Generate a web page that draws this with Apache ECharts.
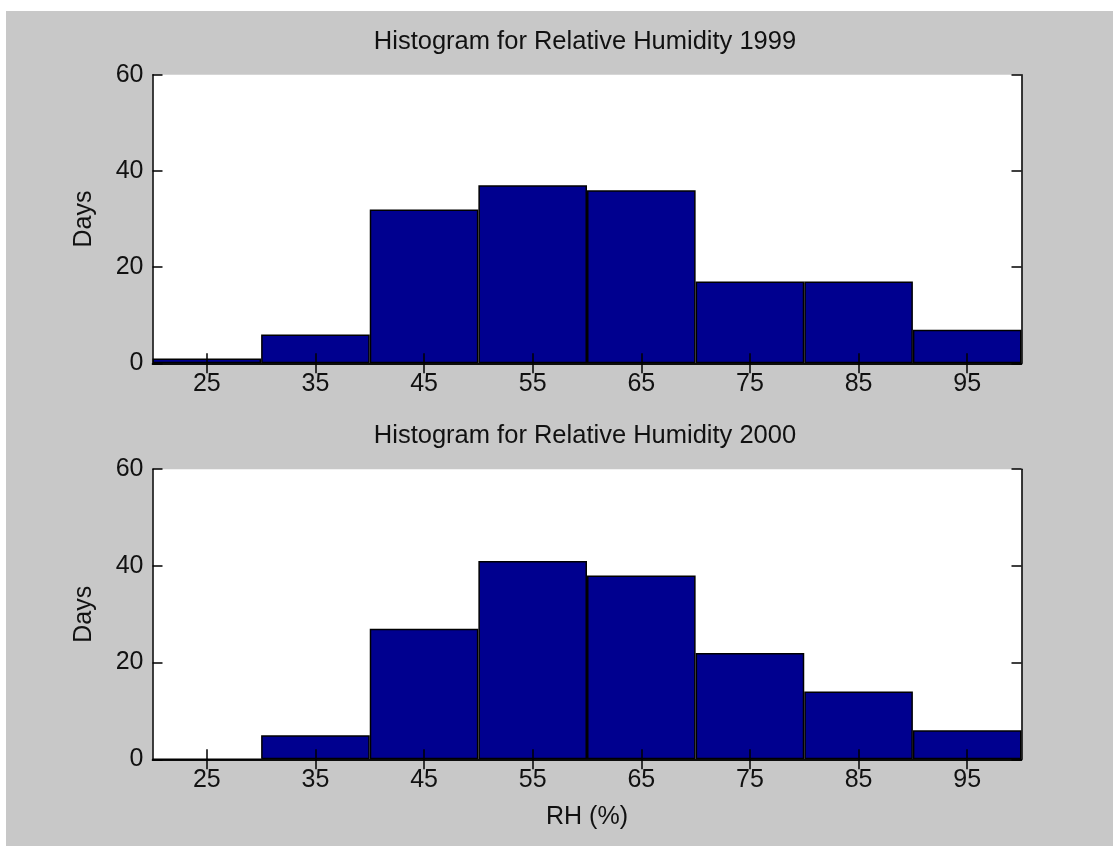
<!DOCTYPE html>
<html>
<head>
<meta charset="utf-8">
<script src="https://cdn.jsdelivr.net/npm/echarts@6/dist/echarts.min.js"></script>
<style>
  html, body { margin: 0; padding: 0; background: #ffffff; }
  #bg { position: absolute; left: 6px; top: 11px; width: 1107px; height: 835px; background: #c8c8c8; }
  #chart { position: absolute; left: 0; top: 0; width: 1113px; height: 846px; }
</style>
</head>
<body>
<div id="bg"></div>
<div id="chart"></div>
<script>
// ---- data ----
const categories = ['25', '35', '45', '55', '65', '75', '85', '95'];
const days1999 = [1, 6, 32, 37, 36, 17, 17, 7];
const days2000 = [0, 5, 27, 41, 38, 22, 14, 6];
const yTicks = [0, 20, 40, 60];
const titles = ['Histogram for Relative Humidity 1999', 'Histogram for Relative Humidity 2000'];
const xName = 'RH (%)';
const yName = 'Days';

const FONT = 'Liberation Sans, Arial, sans-serif';
const FS = 25;
const TXT = '#111111';
const LINE = { color: '#000000', width: 1.5 };

const chart = echarts.init(document.getElementById('chart'));

const grids = [
  { left: 152.5, right: 91.5, top: 74.7, height: 288.6 },
  { left: 152.5, right: 91.5, top: 469.2, height: 290.1 }
];

function xAxes(gi, withName) {
  return [
    {
      type: 'category', gridIndex: gi, data: categories, position: 'bottom',
      boundaryGap: true, z: 5,
      axisLine: { show: true, lineStyle: LINE },
      axisTick: { show: true, inside: true, length: 10, alignWithLabel: true, lineStyle: LINE },
      axisLabel: { show: true, interval: 0, margin: 8, color: TXT, fontSize: FS, fontFamily: FONT },
      splitLine: { show: false },
      name: withName ? xName : '', nameLocation: 'middle', nameGap: 45,
      nameTextStyle: { color: TXT, fontSize: FS, fontFamily: FONT }
    },
    {
      type: 'category', gridIndex: gi, data: categories, position: 'top',
      boundaryGap: true, z: 5,
      axisLine: { show: true, lineStyle: LINE },
      axisTick: { show: true, inside: true, length: 10, alignWithLabel: true, lineStyle: LINE },
      axisLabel: { show: false },
      splitLine: { show: false }
    }
  ];
}

function yAxes(gi) {
  return [
    {
      type: 'value', gridIndex: gi, position: 'left', min: 0, max: 60, interval: 20, z: 5,
      axisLine: { show: true, lineStyle: LINE },
      axisTick: { show: true, inside: true, length: 10, lineStyle: LINE },
      axisLabel: { show: true, margin: 9, color: TXT, fontSize: FS, fontFamily: FONT,
        formatter: v => (yTicks.indexOf(v) >= 0 ? String(v) : '') },
      splitLine: { show: false },
      name: yName, nameLocation: 'middle', nameGap: 56, nameRotate: 90,
      nameTextStyle: { color: TXT, fontSize: FS, fontFamily: FONT }
    },
    {
      type: 'value', gridIndex: gi, position: 'right', min: 0, max: 60, interval: 20, z: 5,
      axisLine: { show: true, lineStyle: LINE },
      axisTick: { show: true, inside: true, length: 10, lineStyle: LINE },
      axisLabel: { show: false },
      splitLine: { show: false }
    }
  ];
}

const barStyle = { color: '#00008f', borderColor: '#000000', borderWidth: 1.5 };

chart.setOption({
  animation: false,
  backgroundColor: 'transparent',
  title: [
    { text: titles[0], left: 585, top: 29, textAlign: 'center', padding: 0,
      textStyle: { color: TXT, fontSize: 25.5, fontWeight: 'normal', fontFamily: FONT } },
    { text: titles[1], left: 585, top: 423, textAlign: 'center', padding: 0,
      textStyle: { color: TXT, fontSize: 25.5, fontWeight: 'normal', fontFamily: FONT } }
  ],
  grid: grids.map(g => Object.assign({ show: true, backgroundColor: '#ffffff', borderWidth: 0 }, g)),
  xAxis: [...xAxes(0, false), ...xAxes(1, true)],
  yAxis: [...yAxes(0), ...yAxes(1)],
  series: [
    { type: 'bar', xAxisIndex: 0, yAxisIndex: 0, data: days1999, barCategoryGap: '0%', itemStyle: barStyle },
    { type: 'bar', xAxisIndex: 2, yAxisIndex: 2, data: days2000, barCategoryGap: '0%', itemStyle: barStyle }
  ]
});
</script>
</body>
</html>
